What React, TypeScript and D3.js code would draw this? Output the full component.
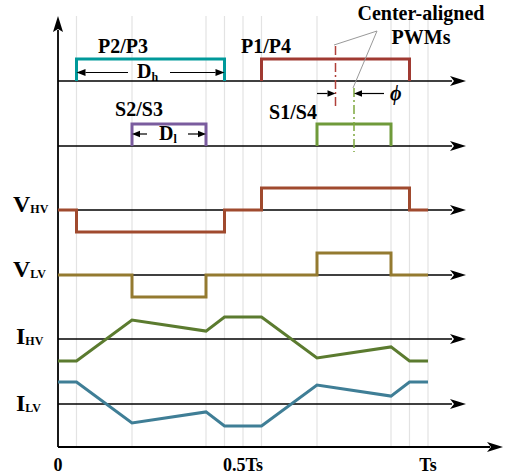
import React from "react";
import * as d3 from "d3";

// switching instants, in fractions of Ts
const gridTimes = [0.05, 0.2, 0.4, 0.45, 0.5, 0.55, 0.7, 0.9, 0.95, 1];
const tickTimes = [0, 0.5, 1];
const tickLabels = ["0", "0.5Ts", "Ts"];

// gate pulses [start, end]
const pulseP23 = [0.05, 0.45];
const pulseP14 = [0.55, 0.95];
const pulseS23 = [0.2, 0.4];
const pulseS14 = [0.7, 0.9];

// step voltages: time of each change and level after it
const vhvTimes = [0, 0.05, 0.45, 0.55, 0.95, 1];
const vhvLevels = [0, -1, 0, 1, 0, 0];
const vlvTimes = [0, 0.2, 0.4, 0.7, 0.9, 1];
const vlvLevels = [0, -1, 0, 1, 0, 0];

// currents, piecewise linear
const iTimes = [0, 0.05, 0.2, 0.4, 0.45, 0.55, 0.7, 0.9, 0.95, 1];
const ihvValues = [-1, -1, 0.86, 0.36, 1, 1, -0.86, -0.36, -1, -1];
const ilvValues = [1, 1, -0.86, -0.36, -1, -1, 0.86, 0.36, 1, 1];

const W = 508;
const H = 476;
const x0 = 58;
const axisEnd = 466;
const bottomY = 447;
const font = "'Liberation Serif', 'Times New Roman', serif";

const x = d3.scaleLinear().domain([0, 1]).range([x0, 428]);
const band = (axisY: number) =>
  d3.scaleLinear().domain([-1, 1]).range([axisY + 22, axisY - 22]);

const rowP = band(81);
const rowS = band(146);
const rowVhv = band(210);
const rowVlv = band(275);
const rowIhv = band(339);
const rowIlv = band(404);

const stepLine = (y: d3.ScaleLinear<number, number>) =>
  d3
    .line<[number, number]>()
    .x((d) => x(d[0]))
    .y((d) => y(d[1]))
    .curve(d3.curveStepAfter);

const polyLine = (y: d3.ScaleLinear<number, number>) =>
  d3
    .line<[number, number]>()
    .x((d) => x(d[0]))
    .y((d) => y(d[1]));

const pulsePath = (p: number[], y: d3.ScaleLinear<number, number>) =>
  d3.line()([
    [x(p[0]), y(0)],
    [x(p[0]), y(1)],
    [x(p[1]), y(1)],
    [x(p[1]), y(0)],
  ]);

function Arrow({ x1, y, x2, size = 9 }: { x1: number; y: number; x2: number; size?: number }) {
  const dir = x2 > x1 ? 1 : -1;
  return (
    <g>
      <line x1={x1} y1={y} x2={x2 - dir * size} y2={y} stroke="#000" strokeWidth={1.2} />
      <path
        d={`M${x2},${y} L${x2 - dir * size},${y - size * 0.4} L${x2 - dir * size},${y + size * 0.4} Z`}
        fill="#000"
      />
    </g>
  );
}

function Axis({ y }: { y: number }) {
  return (
    <g>
      <line x1={x0} y1={y} x2={axisEnd - 14} y2={y} stroke="#000" strokeWidth={1.5} />
      <path d={`M${axisEnd},${y} L${axisEnd - 16},${y - 5} L${axisEnd - 12},${y} L${axisEnd - 16},${y + 5} Z`} fill="#000" />
    </g>
  );
}

function Label({ x: lx, y, main, sub, size = 24, subRatio = 0.5, dy = 1 }: {
  x: number; y: number; main: string; sub: string; size?: number; subRatio?: number; dy?: number;
}) {
  return (
    <text x={lx} y={y} fontFamily={font} fontWeight="bold" fontSize={size}>
      {main}
      <tspan fontSize={size * subRatio} dy={dy}>
        {sub}
      </tspan>
    </text>
  );
}

export default function App() {
  const zip = (a: number[], b: number[]) => a.map((t, i) => [t, b[i]] as [number, number]);
  const midP = x((pulseP14[0] + pulseP14[1]) / 2);
  const midS = x((pulseS14[0] + pulseS14[1]) / 2);
  return (
    <svg width={W} height={H} style={{ position: "absolute", left: 0, top: 0, background: "#fff" }}>
      {/* grid */}
      {gridTimes.map((t) => (
        <line key={t} x1={x(t)} x2={x(t)} y1={16} y2={bottomY} stroke="#e3e3e3" strokeWidth={1.2} />
      ))}

      {/* signal axes */}
      {[81, 146, 210, 275, 339, 404].map((y) => (
        <Axis key={y} y={y} />
      ))}

      {/* main axes */}
      <line x1={x0} y1={bottomY} x2={x0} y2={30} stroke="#000" strokeWidth={1.8} />
      <path d={`M${x0},16 L${x0 - 5},32 L${x0},29 L${x0 + 5},32 Z`} fill="#000" />
      <line x1={x0} y1={bottomY} x2={490} y2={bottomY} stroke="#000" strokeWidth={1.8} />
      <path d={`M503,${bottomY} L487,${bottomY - 5} L491,${bottomY} L487,${bottomY + 5} Z`} fill="#000" />
      {tickTimes.map((t, i) => (
        <text key={t} x={x(t)} y={471} textAnchor="middle" fontFamily={font} fontWeight="bold" fontSize={18}>
          {tickLabels[i]}
        </text>
      ))}

      {/* gate pulses */}
      <path d={pulsePath(pulseP23, rowP) || ""} fill="none" stroke="#00999a" strokeWidth={3} />
      <path d={pulsePath(pulseP14, rowP) || ""} fill="none" stroke="#a03a32" strokeWidth={3} />
      <path d={pulsePath(pulseS23, rowS) || ""} fill="none" stroke="#7a5c9e" strokeWidth={3} />
      <path d={pulsePath(pulseS14, rowS) || ""} fill="none" stroke="#6f9a3a" strokeWidth={3} />

      {/* centre lines */}
      <line x1={midP} x2={midP} y1={46} y2={108} stroke="#b0403a" strokeWidth={1.5} strokeDasharray="9,3,2,3" />
      <line x1={midS} x2={midS} y1={88} y2={152} stroke="#7ea83e" strokeWidth={1.5} strokeDasharray="9,3,2,3" />
      <line x1={377} y1={31} x2={334} y2={45} stroke="#999" strokeWidth={1} />
      <line x1={377} y1={31} x2={353} y2={88} stroke="#999" strokeWidth={1} />

      {/* phase shift */}
      <Arrow x1={317} y={93.5} x2={midP} size={8} />
      <Arrow x1={384} y={93.5} x2={midS} size={8} />
      <text x={390} y={100} fontFamily={font} fontStyle="italic" fontWeight="bold" fontSize={20}>ϕ</text>

      {/* duty annotations */}
      <Arrow x1={128} y={72.5} x2={x(pulseP23[0])} />
      <Arrow x1={170} y={72.5} x2={x(pulseP23[1])} />
      <Label x={137} y={78} main="D" sub="h" size={20} subRatio={0.6} dy={3} />
      <Arrow x1={147} y={134} x2={x(pulseS23[0])} size={8} />
      <Arrow x1={188} y={134} x2={x(pulseS23[1])} size={8} />
      <Label x={159} y={140} main="D" sub="l" size={20} subRatio={0.6} dy={3} />

      <g fontFamily={font} fontWeight="bold" fontSize={20} textAnchor="middle">
        <text x={123} y={53}>P2/P3</text>
        <text x={266} y={53}>P1/P4</text>
        <text x={139} y={116}>S2/S3</text>
        <text x={293} y={119}>S1/S4</text>
        <text x={421} y={20}>Center-aligned</text>
        <text x={421} y={44}>PWMs</text>
      </g>

      {/* voltages */}
      <path d={stepLine(rowVhv)(zip(vhvTimes, vhvLevels)) || ""} fill="none" stroke="#a04a2e" strokeWidth={3} />
      <path d={stepLine(rowVlv)(zip(vlvTimes, vlvLevels)) || ""} fill="none" stroke="#947a30" strokeWidth={3} />

      {/* currents */}
      <path d={polyLine(rowIhv)(zip(iTimes, ihvValues)) || ""} fill="none" stroke="#5b7b2f" strokeWidth={3} />
      <path d={polyLine(rowIlv)(zip(iTimes, ilvValues)) || ""} fill="none" stroke="#3f7e96" strokeWidth={3} />

      <Label x={13} y={212} main="V" sub="HV" />
      <Label x={13} y={277} main="V" sub="LV" />
      <Label x={16} y={344} main="I" sub="HV" />
      <Label x={16} y={411} main="I" sub="LV" />
    </svg>
  );
}
